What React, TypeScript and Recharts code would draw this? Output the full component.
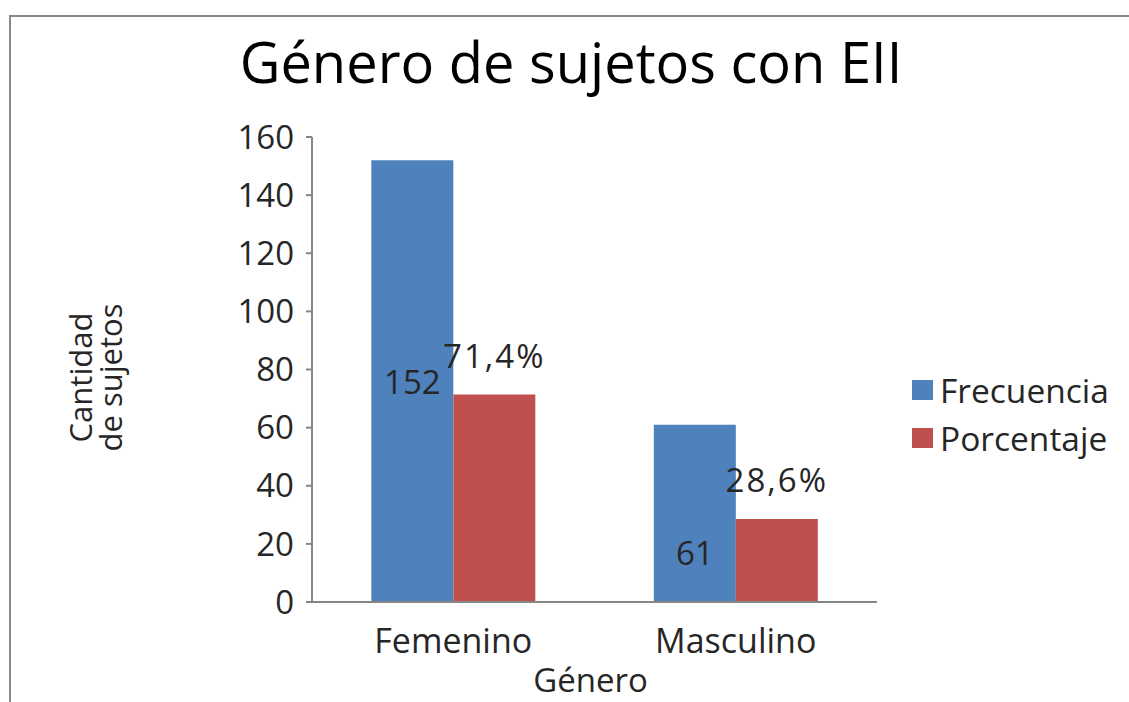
import React from 'react';
import { BarChart, Bar, XAxis, YAxis, Legend, LabelList, Label } from 'recharts';

const categories = ['Femenino', 'Masculino'];
const frecuencia = [152, 61];
const porcentaje = [71.4, 28.6];
const yTicks = [0, 20, 40, 60, 80, 100, 120, 140, 160];
const seriesNames = ['Frecuencia', 'Porcentaje'];
const seriesColors = ['#4F81BD', '#C0504D'];

const data = categories.map((c, i) => ({ name: c, frecuencia: frecuencia[i], porcentaje: porcentaje[i] }));

const FONT = '"Open Sans", "Noto Sans", sans-serif';
const TEXT = '#262626';
const AXIS = '#868686';
// vertical placement of the Frecuencia labels as a fraction of the bar height
const FREQ_LABEL_FRAC = [0.5, 0.72];

const freqLabel = (props: any) => {
  const { x, y, width, height, value, index } = props;
  const f = FREQ_LABEL_FRAC[index] ?? 0.5;
  return (
    <text x={x + width / 2} y={y + height * f} textAnchor="middle" dominantBaseline="central"
      fontFamily={FONT} fontSize={33} fill={TEXT}>{value}</text>
  );
};

const pctLabel = (props: any) => {
  const { x, y, width, value } = props;
  return (
    <text x={x + width / 2} y={y - 39} textAnchor="middle" dominantBaseline="central"
      fontFamily={FONT} fontSize={33} letterSpacing={2} fill={TEXT}>{String(value).replace('.', ',') + '%'}</text>
  );
};

const yLabel = (props: any) => {
  const vb = props.viewBox || {};
  const cy = vb.y + vb.height / 2 + 8;
  return (
    <g transform={`translate(0, ${cy}) rotate(-90)`}>
      <text textAnchor="middle" fontFamily={FONT} fontSize={31} fill={TEXT}>
        <tspan x={0} y={92}>Cantidad</tspan>
        <tspan x={0} y={122}>de sujetos</tspan>
      </text>
    </g>
  );
};

const xLabel = (props: any) => {
  const vb = props.viewBox || {};
  return (
    <text x={vb.x + vb.width / 2 - 4} y={vb.y + 90} textAnchor="middle" fontFamily={FONT} fontSize={33} fill={TEXT}>Género</text>
  );
};

const renderLegend = () => (
  <div style={{ fontFamily: FONT, fontSize: 33.5, color: TEXT }}>
    {seriesNames.map((n, i) => (
      <div key={n} style={{ display: 'flex', alignItems: 'center', height: 48 }}>
        <div style={{ width: 21, height: 20, background: seriesColors[i], marginRight: 7 }} />
        <span style={{ lineHeight: '48px' }}>{n}</span>
      </div>
    ))}
  </div>
);

export default function App() {
  return (
    <div style={{ position: 'absolute', left: 0, top: 0, width: 1129, height: 702, background: '#fff', overflow: 'hidden' }}>
      <div style={{ position: 'absolute', left: 9, top: 15, width: 1300, height: 800, borderTop: '2px solid #8a8a8a', borderLeft: '2px solid #8a8a8a' }} />
      <div style={{ position: 'absolute', left: 71, top: 33, width: 1000, textAlign: 'center', fontFamily: FONT, fontSize: 56, lineHeight: '56px', color: '#000' }}>
        Género de sujetos con EII
      </div>
      <div style={{ position: 'absolute', left: 0, top: 0 }}>
        <BarChart width={1129} height={702} data={data}
          margin={{ top: 137, right: 42, bottom: 40, left: 252 }}
          barGap={0} barCategoryGap="21%">
          <XAxis dataKey="name" height={60} tickLine={false} tickSize={0} tickMargin={27}
            axisLine={{ stroke: AXIS, strokeWidth: 2 }}
            tick={{ fontFamily: FONT, fontSize: 34, fill: TEXT }}>
            <Label content={xLabel} />
          </XAxis>
          <YAxis width={60} domain={[0, 160]} ticks={yTicks} interval={0} tickSize={6} tickMargin={12}
            axisLine={{ stroke: AXIS, strokeWidth: 2 }} tickLine={{ stroke: AXIS, strokeWidth: 2 }}
            tick={{ fontFamily: FONT, fontSize: 33, fill: TEXT }}>
            <Label content={yLabel} />
          </YAxis>
          <Legend layout="vertical" align="right" verticalAlign="top" content={renderLegend}
            wrapperStyle={{ left: 912, top: 366, width: 210 }} />
          <Bar dataKey="frecuencia" name={seriesNames[0]} fill={seriesColors[0]} isAnimationActive={false}>
            <LabelList dataKey="frecuencia" content={freqLabel} />
          </Bar>
          <Bar dataKey="porcentaje" name={seriesNames[1]} fill={seriesColors[1]} isAnimationActive={false}>
            <LabelList dataKey="porcentaje" content={pctLabel} />
          </Bar>
        </BarChart>
      </div>
    </div>
  );
}
